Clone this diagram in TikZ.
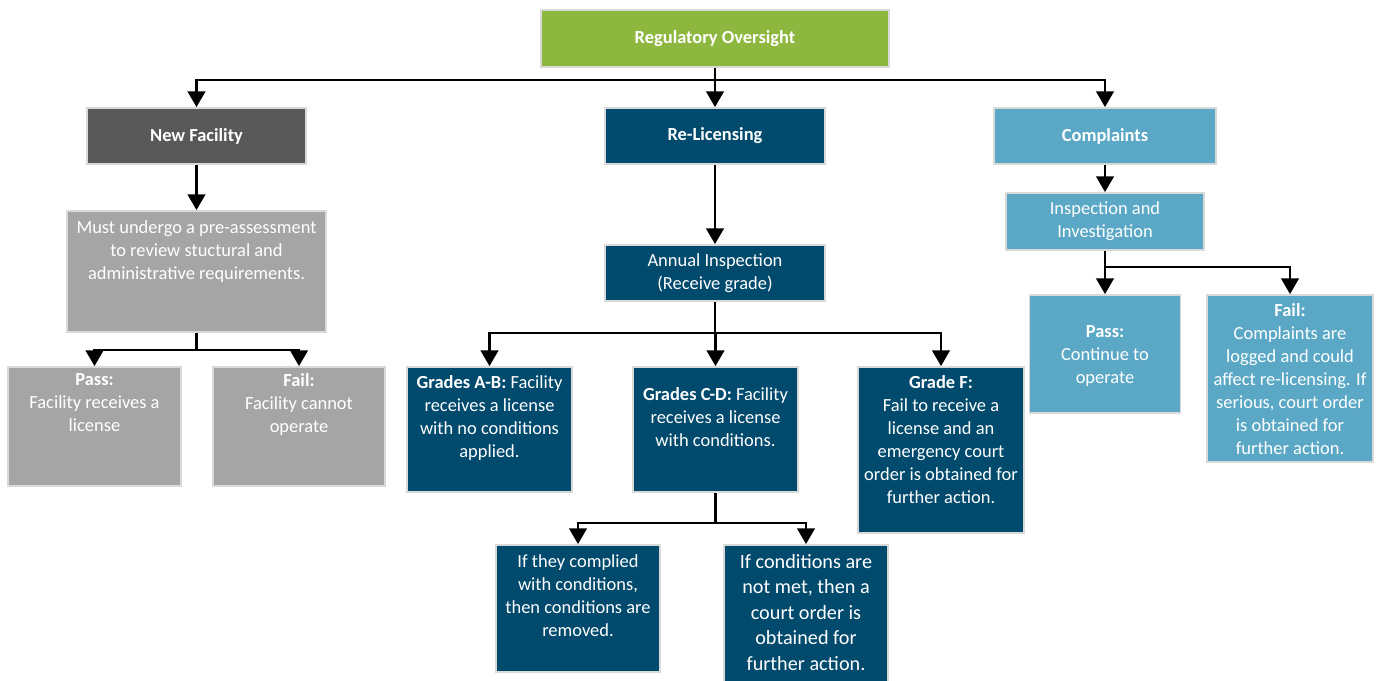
\documentclass[tikz,border=0pt]{standalone}
\usepackage{fontspec}
\setmainfont{Carlito}
\usetikzlibrary{arrows.meta, positioning}
\definecolor{ogreen}{HTML}{8DB73F}
\definecolor{dgray}{HTML}{595959}
\definecolor{lgray}{HTML}{A5A5A5}
\definecolor{navy}{HTML}{004A6E}
\definecolor{sky}{HTML}{5AA8C5}

\begin{document}
\begin{tikzpicture}[
  box/.style={draw=black!15, line width=1pt, text=white, align=center, inner sep=0pt,
    font=\fontsize{10.5}{13.1}\selectfont},
  txt/.style={text=white, align=center, inner sep=0pt, font=\fontsize{10.5}{13.1}\selectfont},
  arr/.style={-{Triangle[width=10pt,length=9pt]}, line width=1.5pt},
  line/.style={line width=1.5pt}]
\useasboundingbox (0,0) rectangle (27.64,-13.62);

\node[box, fill=ogreen, minimum width=6.96cm, minimum height=1.14cm] (reg) at (14.3,-0.77) {\textbf{Regulatory Oversight}};

\node[box, fill=dgray, minimum width=4.38cm, minimum height=1.12cm] (newf) at (3.93,-2.72) {\textbf{New Facility}};
\node[box, fill=navy, minimum width=4.4cm, minimum height=1.12cm] (relic) at (14.3,-2.72) {\textbf{Re-Licensing}};
\node[box, fill=sky, minimum width=4.44cm, minimum height=1.12cm] (compl) at (22.1,-2.72) {\textbf{Complaints}};

\node[box, fill=lgray, minimum width=5.18cm, minimum height=2.42cm] (pre) at (3.93,-5.43) {};
\node[box, fill=lgray, minimum width=3.46cm, minimum height=2.38cm] (pass1) at (1.89,-8.53) {};
\node[box, fill=lgray, minimum width=3.44cm, minimum height=2.38cm] (fail1) at (5.98,-8.53) {};

\node[box, fill=navy, minimum width=4.4cm, minimum height=1.12cm] (annual) at (14.3,-5.46) {Annual Inspection\\(Receive grade)};
\node[box, fill=navy, minimum width=3.3cm, minimum height=2.5cm] (gab) at (9.79,-8.59) {};
\node[box, fill=navy, minimum width=3.3cm, minimum height=2.5cm] (gcd) at (14.31,-8.59) {};
\node[box, fill=navy, minimum width=3.32cm, minimum height=3.32cm] (gf) at (18.82,-9.0) {};
\node[box, fill=navy, minimum width=3.28cm, minimum height=2.54cm] (compd) at (11.56,-12.17) {};
\node[box, fill=navy, minimum width=3.28cm, minimum height=2.9cm] (notmet) at (16.12,-12.35) {};

\node[box, fill=sky, minimum width=3.96cm, minimum height=1.14cm] (insp) at (22.1,-4.43) {Inspection and\\Investigation};
\node[box, fill=sky, minimum width=3.02cm, minimum height=2.36cm] (pass2) at (22.1,-7.08) {};
\node[box, fill=sky, minimum width=3.32cm, minimum height=3.34cm] (fail2) at (25.8,-7.57) {};

\node[txt, below=0.2 of pre.north] (pre-t) {Must undergo a pre-assessment\\to review stuctural and\\administrative requirements.};
\node[txt, below=0.14 of pass1.north] (pass1-t) {\textbf{Pass:}\\Facility receives a\\license};
\node[txt, below=0.14 of fail1.north] (fail1-t) {\textbf{Fail:}\\Facility cannot\\operate};
\node[txt, below=0.18 of gab.north] (gab-t) {\textbf{Grades A-B:} Facility\\receives a license\\with no conditions\\applied.};
\node[txt, below=0.42 of gcd.north] (gcd-t) {\textbf{Grades C-D:} Facility\\receives a license\\with conditions.};
\node[txt, below=0.18 of gf.north] (gf-t) {\textbf{Grade F:}\\Fail to receive a\\license and an\\emergency court\\order is obtained for\\further action.};
\node[txt, below=0.2 of compd.north] (compd-t) {If they complied\\with conditions,\\then conditions are\\removed.};
\node[txt, below=0.2 of notmet.north, font=\fontsize{11.5}{14.5}\selectfont] (notmet-t) {If conditions are\\not met, then a\\court order is\\obtained for\\further action.};
\node[txt, below=0.62 of pass2.north] (pass2-t) {\textbf{Pass:}\\Continue to\\operate};
\node[txt, below=0.18 of fail2.north] (fail2-t) {\textbf{Fail:}\\Complaints are\\logged and could\\affect re-licensing. If\\serious, court order\\is obtained for\\further action.};

\coordinate (j1) at (14.3,-1.6);
\draw[line] (reg.south) -- (j1);
\draw[arr] (j1) -| (newf.north);
\draw[arr] (j1) -- (relic.north);
\draw[arr] (j1) -| (compl.north);

\draw[arr] (newf.south) -- (pre.north);
\coordinate (j2) at (3.93,-7.0);
\draw[line] (pre.south) -- (j2);
\draw[arr] (j2) -| (pass1.north);
\draw[arr] (j2) -| (fail1.north);

\draw[arr] (relic.south) -- (annual.north);
\coordinate (j3) at (14.3,-6.66);
\draw[line] (annual.south) -- (j3);
\draw[arr] (j3) -| (gab.north);
\draw[arr] (j3) -| (gcd.north);
\draw[arr] (j3) -| (gf.north);

\coordinate (j4) at (14.31,-10.46);
\draw[line] (gcd.south) -- (j4);
\draw[arr] (j4) -| (compd.north);
\draw[arr] (j4) -| (notmet.north);

\draw[arr] (compl.south) -- (insp.north);
\coordinate (j5) at (22.1,-5.34);
\draw[line] (insp.south) -- (j5);
\draw[arr] (j5) -- (pass2.north);
\draw[arr] (j5) -| (fail2.north);
\end{tikzpicture}
\end{document}
